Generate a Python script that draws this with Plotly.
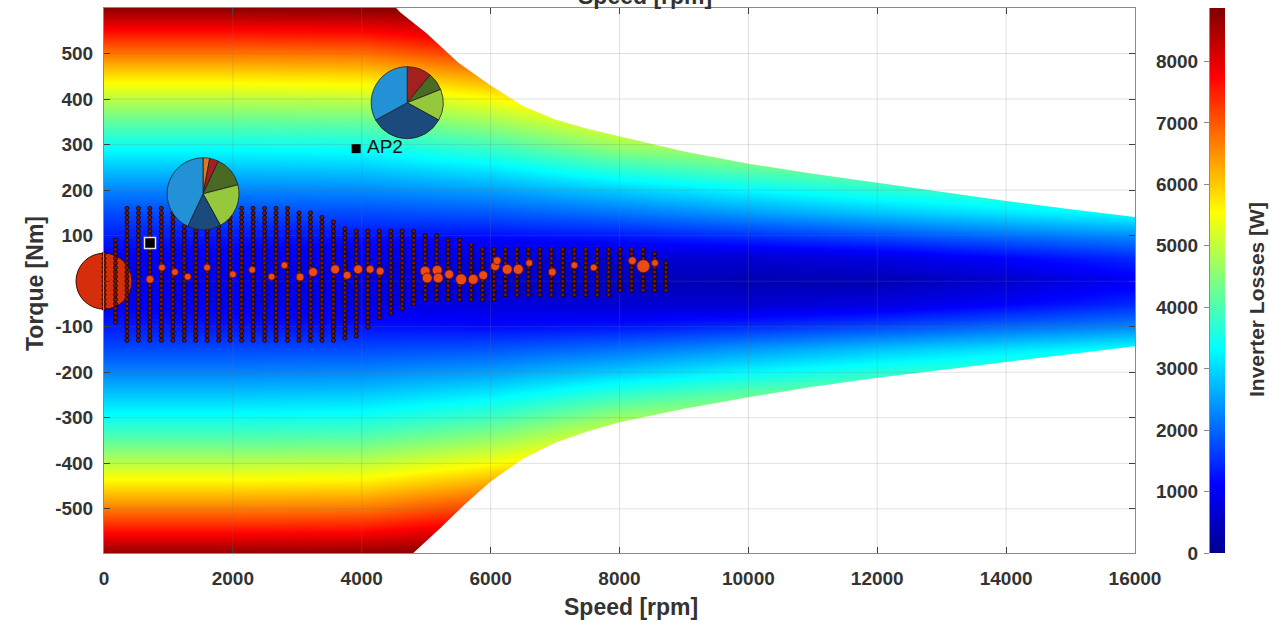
import plotly.graph_objects as go

# ---------------- data ----------------
# Inverter loss map [W]: rows = |torque| [Nm], columns = speed [rpm]
map_speed = [0, 2000, 4000, 6000, 8000, 10000, 12000, 14000, 16000]
map_abs_torque = [0, 50, 100, 150, 200, 250, 300, 350, 400, 450, 500, 550, 600]
loss_W = [
    [950, 900, 800, 600, 450, 350, 350, 600, 1000],
    [1050, 1000, 900, 750, 650, 650, 800, 1100, 1450],
    [1350, 1300, 1250, 1200, 1300, 1500, 1750, 2050, 2300],
    [1750, 1750, 1750, 1850, 2100, 2450, 2800, 3100, 3400],
    [2250, 2250, 2300, 2500, 2900, 3300, 3650, 3900, 4200],
    [2850, 2850, 2900, 3200, 3800, 4200, 4500, 4800, 5000],
    [3450, 3450, 3500, 3900, 4700, 5000, 5300, 5500, 5700],
    [4150, 4150, 4200, 4700, 5500, 5900, 6100, 6300, 6500],
    [4950, 4950, 5000, 5500, 6300, 6700, 6900, 7100, 7300],
    [5800, 5800, 5850, 6400, 7100, 7500, 7700, 7900, 8100],
    [6700, 6700, 6750, 7300, 7900, 8200, 8400, 8600, 8700],
    [7700, 7700, 7750, 8200, 8600, 8700, 8800, 8800, 8800],
    [8750, 8750, 8800, 8870, 8870, 8870, 8870, 8870, 8870],
]
CMAX = 8870

# Torque envelope (motoring / generating)
env_top_speed = [0, 4400, 4600, 5000, 5500, 6000, 6500, 7000, 7500, 8000, 9000,
                 10000, 11000, 12000, 13000, 14000, 15000, 16000]
env_top_torque = [620, 620, 590, 545, 480, 430, 385, 355, 335, 318, 285,
                  258, 236, 216, 196, 176, 158, 141]
env_bot_speed = [0, 4700, 4800, 5200, 5600, 6000, 6500, 7000, 7500, 8000, 9000,
                 10000, 11000, 12000, 13000, 14000, 15000, 16000]
env_bot_torque = [-620, -620, -597, -545, -490, -440, -390, -355, -330, -310, -280,
                  -255, -232, -212, -195, -178, -160, -143]

# Drive-cycle operating points: columns of speed, torque extent per column
op_col_speed = [0, 178, 356, 534, 712, 890, 1068, 1246, 1424, 1602, 1780, 1958,
                2136, 2314, 2492, 2670, 2848, 3026, 3204, 3382, 3560, 3738, 3916,
                4094, 4272, 4450, 4628, 4806, 4984, 5162, 5340, 5518, 5696, 5874,
                6052, 6230, 6408, 6586, 6764, 6942, 7120, 7298, 7476, 7654, 7832,
                8010, 8188, 8366, 8544, 8722]
op_col_tmax = [60, 90, 160, 160, 160, 160, 160, 160, 160, 160, 160, 160,
               160, 160, 160, 160, 160, 155, 150, 145, 130, 115, 110,
               110, 110, 110, 110, 110, 105, 100, 95, 90, 85, 75,
               75, 75, 75, 75, 75, 75, 75, 75, 75, 75, 75,
               70, 70, 70, 60, 45]
op_col_tmin = [-60, -90, -130, -130, -130, -130, -130, -130, -130, -130, -130, -130,
               -130, -130, -130, -130, -130, -130, -130, -130, -130, -125, -120,
               -100, -80, -70, -60, -50, -40, -40, -40, -40, -40, -40,
               -40, -30, -30, -30, -30, -30, -30, -30, -30, -30, -30,
               -20, -20, -20, -20, -20]
op_torque_step = 10

# Frequently visited operating points (bubbles)
bub_speed = [3587, 4984, 5016, 5171, 5186, 5357, 5543, 5730, 5885, 6071, 6258, 6429,
             6957, 8370, 3245, 3773, 3944, 4130, 4286, 3043, 714, 900, 1100, 1300,
             1600, 2000, 2300, 2600, 2800, 6100, 6600, 7300, 7600, 8200, 8550]
bub_torque = [26, 22, 7, 24, 7, 15, 4, 4, 13, 33, 26, 26,
              20, 33, 20, 13, 26, 26, 22, 9, 4, 30, 20, 10,
              30, 15, 25, 10, 35, 45, 40, 35, 30, 45, 40]
bub_size = [9, 10, 10, 10, 10, 9, 11, 10, 9, 9, 10, 10,
            8, 13, 9, 8, 9, 8, 8, 8, 8, 7, 7, 7,
            7, 7, 7, 7, 7, 8, 7, 7, 7, 8, 7]

idle_speed = [0]
idle_torque = [0]
idle_size = [56]

ap_name = ["AP1", "AP2"]
ap_speed = [714, 3913]
ap_torque = [84, 291]

# Loss split pies at the two analysis points
pie_labels1 = ["Loss 1", "Loss 2", "Loss 3", "Loss 4", "Loss 5", "Loss 6"]
pie_values1 = [3, 4, 14, 21, 15, 43]
pie_colors1 = ["#e07820", "#a3201e", "#4a6a24", "#96c83c", "#1b4a7c", "#2391d6"]
pie_labels2 = ["Loss 2", "Loss 3", "Loss 4", "Loss 5", "Loss 6"]
pie_values2 = [11, 8, 14, 34, 33]
pie_colors2 = ["#a3201e", "#4a6a24", "#96c83c", "#1b4a7c", "#2391d6"]
pie_center_speed = [1537, 4705]
pie_center_torque = [192, 392]

x_ticks = [0, 2000, 4000, 6000, 8000, 10000, 12000, 14000, 16000]
y_ticks = [-500, -400, -300, -200, -100, 0, 100, 200, 300, 400, 500]
cbar_ticks = [0, 1000, 2000, 3000, 4000, 5000, 6000, 7000, 8000]

# ---------------- layout geometry ----------------
W, H = 1270, 626
ML, MR, MT, MB = 104, 40, 8, 73
PW, PH = W - ML - MR, H - MT - MB
PLOT_W = 1031
XR = [0, 16000]
YR = [-597, 600]
XDOM = PLOT_W / PW
PIE_R = 36

FONT = "Liberation Sans, Arial, Helvetica, sans-serif"
TXT = "#333333"

jet = [[0.0, "rgb(0,0,143)"], [0.125, "rgb(0,0,255)"], [0.375, "rgb(0,255,255)"],
       [0.625, "rgb(255,255,0)"], [0.875, "rgb(255,0,0)"], [1.0, "rgb(128,0,0)"]]

# full torque axis (mirror of |T| rows)
map_torque = [-t for t in reversed(map_abs_torque[1:])] + map_abs_torque
z = [loss_W[map_abs_torque.index(abs(t))] for t in map_torque]

fig = go.Figure()

fig.add_trace(go.Heatmap(
    x=map_speed, y=map_torque, z=z, zmin=0, zmax=CMAX, zsmooth="best",
    colorscale=jet, hoverinfo="skip",
    colorbar=dict(x=(1210 - ML) / PW, xanchor="left", xpad=0, thickness=15,
                  len=1, lenmode="fraction", y=0.5, yanchor="middle", ypad=0,
                  outlinewidth=0, showticklabels=False, ticks=""),
))

# white area outside the torque envelope
fig.add_trace(go.Scatter(
    x=env_top_speed + [XR[1], XR[0]], y=env_top_torque + [700, 700],
    fill="toself", fillcolor="white", line=dict(width=0), mode="lines",
    hoverinfo="skip", showlegend=False))
fig.add_trace(go.Scatter(
    x=env_bot_speed + [XR[1], XR[0]], y=env_bot_torque + [-700, -700],
    fill="toself", fillcolor="white", line=dict(width=0), mode="lines",
    hoverinfo="skip", showlegend=False))

# grid lines (drawn over the map like MATLAB)
gx, gy = [], []
for v in x_ticks[1:-1]:
    gx += [v, v, None]
    gy += [YR[0], YR[1], None]
for v in y_ticks:
    gx += [XR[0], XR[1], None]
    gy += [v, v, None]
fig.add_trace(go.Scatter(x=gx, y=gy, mode="lines",
                         line=dict(color="rgba(120,120,120,0.22)", width=1),
                         hoverinfo="skip", showlegend=False))

# operating points
px, py = [], []
for s, lo, hi in zip(op_col_speed, op_col_tmin, op_col_tmax):
    t = lo
    while t <= hi:
        px.append(s)
        py.append(t)
        t += op_torque_step

fig.add_trace(go.Scatter(
    x=idle_speed, y=idle_torque, mode="markers", cliponaxis=False,
    marker=dict(size=idle_size, color="#d42e0a", opacity=1,
                line=dict(color="#3a0800", width=1)),
    showlegend=False))
fig.add_trace(go.Scatter(
    x=px, y=py, mode="markers", cliponaxis=False,
    marker=dict(size=4, color="#7c1a00", opacity=1, line=dict(color="#0a0000", width=0.8)),
    showlegend=False))
fig.add_trace(go.Scatter(
    x=bub_speed, y=bub_torque, mode="markers",
    marker=dict(size=bub_size, color="#ee4a14", opacity=1,
                line=dict(color="#5a1000", width=0.8)),
    showlegend=False))

# analysis points
fig.add_trace(go.Scatter(
    x=ap_speed[:1], y=ap_torque[:1], mode="markers",
    marker=dict(symbol="square", size=11, color="black", line=dict(color="#e6e6e6", width=1.5)),
    showlegend=False))
fig.add_trace(go.Scatter(
    x=ap_speed[1:], y=ap_torque[1:], mode="markers+text", text=[" " + n for n in ap_name[1:]],
    textposition="middle right",
    textfont=dict(family=FONT, size=19, color="#111111"),
    marker=dict(symbol="square", size=9, color="black"),
    showlegend=False))

# colorbar tick labels on a free axis at the colorbar's left edge
fig.add_trace(go.Scatter(x=[None], y=[None], yaxis="y2", showlegend=False, hoverinfo="skip"))


def to_paper(s, t):
    xp = (s - XR[0]) / (XR[1] - XR[0]) * PLOT_W / PW
    yp = (t - YR[0]) / (YR[1] - YR[0])
    return xp, yp


for vals, labs, cols, cs, ct in [
        (pie_values1, pie_labels1, pie_colors1, pie_center_speed[0], pie_center_torque[0]),
        (pie_values2, pie_labels2, pie_colors2, pie_center_speed[1], pie_center_torque[1])]:
    cx, cy = to_paper(cs, ct)
    dx, dy = PIE_R / PW, PIE_R / PH
    fig.add_trace(go.Pie(
        values=vals, labels=labs, sort=False, direction="clockwise", rotation=0,
        marker=dict(colors=cols, line=dict(color="#202020", width=0.8)),
        textinfo="none", hoverinfo="label+percent", showlegend=False,
        domain=dict(x=[cx - dx, cx + dx], y=[cy - dy, cy + dy])))

tickfont = dict(family=FONT, size=19, color=TXT, weight="bold")
axis_common = dict(showgrid=False, zeroline=False, showline=True, linecolor="#8a8a8a",
                   linewidth=1, mirror="ticks", ticks="inside", ticklen=6,
                   tickcolor="#404040", tickfont=tickfont, layer="above traces")
title_font = dict(family=FONT, size=23, color=TXT, weight="bold")

fig.update_layout(
    width=W, height=H,
    margin=dict(l=ML, r=MR, t=MT, b=MB, autoexpand=False),
    paper_bgcolor="white", plot_bgcolor="white",
    showlegend=False,
    font=dict(family=FONT, color=TXT),
    xaxis=dict(range=XR, domain=[0, XDOM], tickvals=x_ticks,
               ticktext=[str(v) for v in x_ticks], ticklabelstandoff=8,
               **axis_common),
    yaxis=dict(range=YR, tickvals=y_ticks,
               ticktext=[str(v) if v != 0 else "" for v in y_ticks],
               ticklabelstandoff=6, **axis_common),
    yaxis2=dict(overlaying="y", anchor="free", position=(1209 - ML) / PW, side="left",
                range=[0, CMAX], tickvals=cbar_ticks, showgrid=False, zeroline=False,
                showline=True, linecolor="#8a8a8a", ticks="outside", ticklen=5,
                tickcolor="#8a8a8a", tickfont=tickfont, ticklabelstandoff=2),
    annotations=[
        dict(text="Speed [rpm]", xref="paper", yref="paper", x=(631 - ML) / PW,
             y=(H - MB - 607) / PH, xanchor="center", yanchor="middle", showarrow=False,
             font=title_font),
        dict(text="Torque [Nm]", xref="paper", yref="paper", x=(35 - ML) / PW,
             y=(H - MB - 284) / PH, xanchor="center", yanchor="middle", showarrow=False,
             textangle=-90, font=title_font),
        dict(text="Inverter Losses [W]", xref="paper", yref="paper", x=(1256 - ML) / PW,
             y=(H - MB - 300) / PH, xanchor="center", yanchor="middle", showarrow=False,
             textangle=-90, font=dict(family=FONT, size=21, color=TXT, weight="bold")),
        dict(text="Speed [rpm]", xref="paper", yref="paper", x=(645 - ML) / PW,
             y=(H - MB - 11) / PH, xanchor="center", yanchor="bottom", showarrow=False,
             font=title_font),
    ],
)

fig.write_html("out.html", config={"displayModeBar": False},
               post_script="document.body.style.margin='0';")
